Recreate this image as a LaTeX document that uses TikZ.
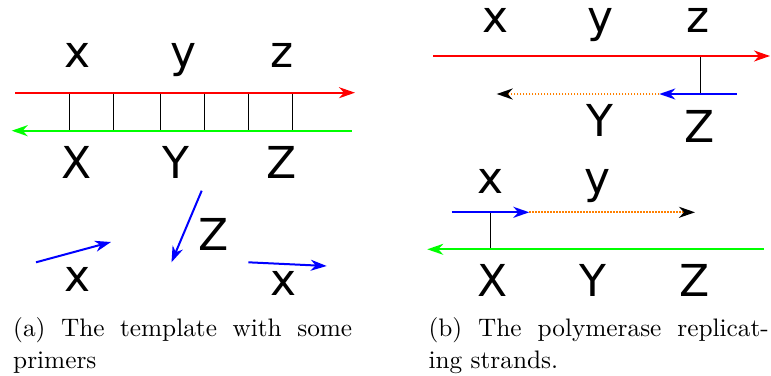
\documentclass[tikz,border=0pt]{standalone}
\usepackage{fontspec}
\newfontfamily\lblfont{DejaVu Sans}
\usetikzlibrary{arrows.meta}
\tikzset{
  lbl/.style={font=\lblfont\fontsize{44}{44}\selectfont, inner sep=0pt, anchor=base},
  strand/.style={line width=2pt},
  arrhead/.style={-{Stealth[length=16pt,width=11pt,inset=5pt]}},
  blackhead/.style={-{Stealth[length=16pt,width=11pt,inset=5pt,black]}},
  rung/.style={line width=0.9pt, black},
  dotline/.style={line width=2pt, orange, dash pattern=on 1.5pt off 1.5pt},
  captext/.style={font=\fontsize{10}{12}\selectfont, scale=2.53, inner sep=0pt, anchor=base west},
}
\begin{document}
\begin{tikzpicture}[x=1pt,y=-1pt]
\useasboundingbox (0,0) rectangle (771,375);

% ---------- panel (a) ----------
\node[lbl] (ax) at (77.5,67) {x};
\node[lbl] (ay) at (183.5,67) {y};
\node[lbl] (az) at (282,67) {z};

\coordinate (r1s) at (15,92.7);
\coordinate (r1e) at (355,92.7);
\coordinate (g1s) at (351.7,130.7);
\coordinate (g1e) at (11.7,130.7);
\draw[strand, red, arrhead] (r1s) -- (r1e);
\draw[strand, green, arrhead] (g1s) -- (g1e);

\foreach \i/\xx in {1/69,2/113,3/160.7,4/204.3,5/248.7,6/292.3}{
  \coordinate (ut\i) at (\xx,93.7);
  \coordinate (ub\i) at (\xx,129.7);
  \draw[rung] (ut\i) -- (ub\i);
}

\node[lbl] (aX) at (77,178) {X};
\node[lbl] (aY) at (176,178) {Y};
\node[lbl] (aZ) at (281.5,178) {Z};

\coordinate (p1s) at (36,262.3);
\coordinate (p1e) at (111,242);
\coordinate (p2s) at (201.7,190.7);
\coordinate (p2e) at (171.5,262.3);
\coordinate (p3s) at (248.3,262.3);
\coordinate (p3e) at (326.7,266);
\draw[strand, blue, arrhead] (p1s) -- (p1e);
\draw[strand, blue, arrhead] (p2s) -- (p2e);
\draw[strand, blue, arrhead] (p3s) -- (p3e);

\node[lbl] (px1) at (78,291.7) {x};
\node[lbl] (pZ) at (213.3,250) {Z};
\node[lbl] (px2) at (283.3,295) {x};

\node[captext] (capa1) at (12.7,336.7) {\makebox[134pt][s]{(a) The template with some}};
\node[captext] (capa2) at (12.7,368.3) {primers};

% ---------- panel (b) ----------
\node[lbl] (bx) at (495.7,32) {x};
\node[lbl] (by) at (600.7,32) {y};
\node[lbl] (bz) at (698,32) {z};

\coordinate (r2s) at (433.3,56);
\coordinate (r2e) at (770,56);
\draw[strand, red, arrhead] (r2s) -- (r2e);

\coordinate (v1t) at (700.7,57);
\coordinate (v1b) at (700.7,93);
\draw[rung] (v1t) -- (v1b);

\coordinate (b1s) at (736.7,94);
\coordinate (b1e) at (659.3,94);
\coordinate (o1e) at (496.7,94);
\draw[dotline, blackhead] (b1e) -- (o1e);
\draw[strand, blue, arrhead] (b1s) -- (b1e);

\node[lbl] (bY) at (600,136.7) {Y};
\node[lbl] (bZ) at (700,142.7) {Z};

\node[lbl] (bx2) at (490.4,193.3) {x};
\node[lbl] (by2) at (598,193.3) {y};

\coordinate (b2s) at (451.7,212.3);
\coordinate (b2e) at (529.3,212.3);
\coordinate (o2e) at (695,212.3);
\draw[dotline, blackhead] (b2e) -- (o2e);
\draw[strand, blue, arrhead] (b2s) -- (b2e);

\coordinate (v2t) at (490.7,213.3);
\coordinate (v2b) at (490.7,248.3);
\draw[rung] (v2t) -- (v2b);

\coordinate (g2s) at (764,249.3);
\coordinate (g2e) at (427.3,249.3);
\draw[strand, green, arrhead] (g2s) -- (g2e);

\node[lbl] (bX3) at (492.7,296.7) {X};
\node[lbl] (bY3) at (593.3,296.7) {Y};
\node[lbl] (bZ3) at (695,296.7) {Z};

\node[captext] (capb1) at (428,336.7) {\makebox[134.5pt][s]{(b) The polymerase replicat-}};
\node[captext] (capb2) at (428,368.3) {ing strands.};
\end{tikzpicture}
\end{document}
